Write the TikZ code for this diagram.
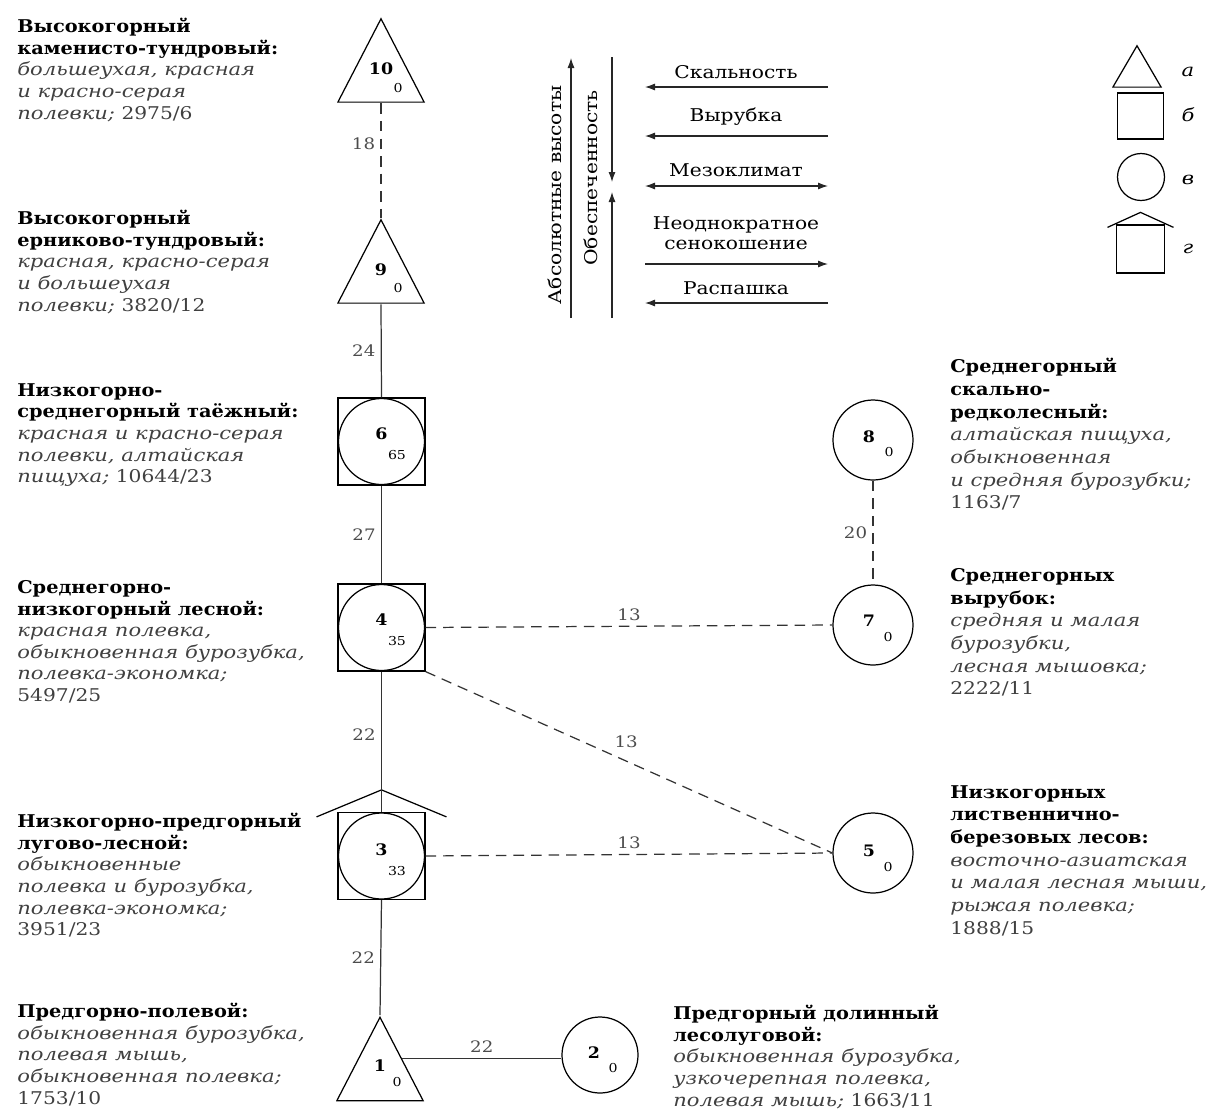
\documentclass[tikz,border=0pt]{standalone}
\usepackage{fontspec}
\setmainfont{DejaVu Serif}[FakeStretch=1.15, BoldFeatures={FakeStretch=1.1}, ItalicFeatures={FakeStretch=1.2}]
\usepackage{tikz}
\usetikzlibrary{arrows.meta,calc}

\begin{document}
\begin{tikzpicture}[
        tri/.style={minimum width=1.76cm, minimum height=1.72cm, inner sep=0pt, path picture={\draw[line width=0.7pt] ([shift={(0.5pt,0.5pt)}]path picture bounding box.south west) -- ([yshift=-1pt]path picture bounding box.north) -- ([shift={(-0.5pt,0.5pt)}]path picture bounding box.south east) -- cycle;}},
        sqcirc/.style={draw, line width=0.7pt, minimum size=1.74cm, inner sep=0pt, path picture={\draw[line width=0.7pt] (path picture bounding box.center) circle (0.86cm);}},
        circ/.style={draw, circle, line width=0.7pt, minimum size=1.6cm, inner sep=0pt},
        numtxt/.style={font=\small\bfseries, inner sep=0pt},
        subtxt/.style={font=\scriptsize, inner sep=0pt},
        link/.style={line width=0.7pt, black!80},
        weak/.style={link, dash pattern=on 6pt off 4pt},
        wt/.style={font=\small, text=black!70, inner sep=3pt},
        info/.style={anchor=north west, align=left, inner sep=0pt, font=\fontsize{10}{12.3}\selectfont},
        infor/.style={info, font=\fontsize{10}{12.9}\selectfont},
        factor/.style={align=center, inner sep=0pt, font=\fontsize{10}{11.7}\selectfont},
        trend/.style={-{Latex[length=2mm,width=1.4mm]}, line width=0.6pt, black!85}
    ]
        \useasboundingbox (0,0) rectangle (24.18,-22.36);

        \node[tri] (n10) at (7.62,-1.20) {};
        \node[tri] (n9) at (7.62,-5.22) {};
        \node[sqcirc] (n6) at (7.63,-8.83) {};
        \node[sqcirc] (n4) at (7.63,-12.55) {};
        \node[sqcirc] (n3) at (7.63,-17.12) {};
        \node[tri] (n1) at (7.60,-21.17) {};
        \node[circ, minimum size=1.52cm] (n2) at (12.0,-21.1) {};
        \node[circ] (n5) at (17.46,-17.06) {};
        \node[circ] (n7) at (17.46,-12.50) {};
        \node[circ] (n8) at (17.46,-8.80) {};
        \draw[line width=0.7pt] ([xshift=-1.3cm,yshift=-0.1cm]n3.north) -- ([yshift=0.44cm]n3.north) -- ([xshift=1.3cm,yshift=-0.1cm]n3.north);

        \node[numtxt] at ([yshift=-0.17cm]n10.center) {10};
        \node[subtxt] at ([shift={(0.34,-0.57)}]n10.center) {0};
        \node[numtxt] at ([yshift=-0.17cm]n9.center) {9};
        \node[subtxt] at ([shift={(0.34,-0.55)}]n9.center) {0};
        \node[numtxt] at ([yshift=-0.14cm]n1.center) {1};
        \node[subtxt] at ([shift={(0.34,-0.47)}]n1.center) {0};
        \node[numtxt] at ([yshift=0.16cm]n6.center) {6};
        \node[subtxt] at ([shift={(0.31,-0.27)}]n6.center) {65};
        \node[numtxt] at ([yshift=0.15cm]n4.center) {4};
        \node[subtxt] at ([shift={(0.31,-0.27)}]n4.center) {35};
        \node[numtxt] at ([yshift=0.12cm]n3.center) {3};
        \node[subtxt] at ([shift={(0.31,-0.30)}]n3.center) {33};
        \node[numtxt] at ([shift={(-0.12,0.04)}]n2.center) {2};
        \node[subtxt] at ([shift={(0.26,-0.26)}]n2.center) {0};
        \node[numtxt] at ([shift={(-0.08,0.04)}]n5.center) {5};
        \node[subtxt] at ([shift={(0.30,-0.28)}]n5.center) {0};
        \node[numtxt] at ([shift={(-0.08,0.08)}]n7.center) {7};
        \node[subtxt] at ([shift={(0.30,-0.24)}]n7.center) {0};
        \node[numtxt] at ([shift={(-0.08,0.06)}]n8.center) {8};
        \node[subtxt] at ([shift={(0.32,-0.24)}]n8.center) {0};

        \coordinate (n1r) at ($(n1.north)!0.5!(n1.south east)$);
        \draw[weak] (n10.south) -- node[wt, pos=0.35, left] {18} (n9.north);
        \draw[link] (n9.south) -- node[wt, left] {24} (n6.north);
        \draw[link] (n6.south) -- node[wt, left] {27} (n4.north);
        \draw[link] (n4.south) -- node[wt, left, pos=0.45] {22} (n3.north);
        \draw[link] (n3.south) -- node[wt, left] {22} (n1.north);
        \draw[link] (n1r) -- node[wt, above] {22} (n1r -| n2.west);
        \draw[weak] (n4.east) -- node[wt, above] {13} (n7.west);
        \draw[weak] (n4.south east) -- node[wt, above right, pos=0.45] {13} (n5.west);
        \draw[weak] (n3.east) -- node[wt, above] {13} (n5.west);
        \draw[weak] (n8.south) -- node[wt, left] {20} (n7.north);

        \node[info] (b10) at (0.34,-0.36) {\textbf{Высокогорный}\\\textbf{каменисто-тундровый:}\\\textcolor{black!75}{\textit{большеухая, красная}}\\\textcolor{black!75}{\textit{и красно-серая}}\\\textcolor{black!75}{\textit{полевки;} 2975/6}};
        \node[info] (b9) at (0.34,-4.20) {\textbf{Высокогорный}\\\textbf{ерниково-тундровый:}\\\textcolor{black!75}{\textit{красная, красно-серая}}\\\textcolor{black!75}{\textit{и большеухая}}\\\textcolor{black!75}{\textit{полевки;} 3820/12}};
        \node[info] (b6) at (0.34,-7.66) {\textbf{Низкогорно-}\\\textbf{среднегорный таёжный:}\\\textcolor{black!75}{\textit{красная и красно-серая}}\\\textcolor{black!75}{\textit{полевки, алтайская}}\\\textcolor{black!75}{\textit{пищуха;} 10644/23}};
        \node[info] (b4) at (0.34,-11.60) {\textbf{Среднегорно-}\\\textbf{низкогорный лесной:}\\\textcolor{black!75}{\textit{красная полевка,}}\\\textcolor{black!75}{\textit{обыкновенная бурозубка,}}\\\textcolor{black!75}{\textit{полевка-экономка;}}\\\textcolor{black!75}{5497/25}};
        \node[info] (b3) at (0.34,-16.26) {\textbf{Низкогорно-предгорный}\\\textbf{лугово-лесной:}\\\textcolor{black!75}{\textit{обыкновенные}}\\\textcolor{black!75}{\textit{полевка и бурозубка,}}\\\textcolor{black!75}{\textit{полевка-экономка;}}\\\textcolor{black!75}{3951/23}};
        \node[info] (b1) at (0.34,-20.06) {\textbf{Предгорно-полевой:}\\\textcolor{black!75}{\textit{обыкновенная бурозубка,}}\\\textcolor{black!75}{\textit{полевая мышь,}}\\\textcolor{black!75}{\textit{обыкновенная полевка;}}\\\textcolor{black!75}{1753/10}};
        \node[info] (b2) at (13.46,-20.10) {\textbf{Предгорный долинный}\\\textbf{лесолуговой:}\\\textcolor{black!75}{\textit{обыкновенная бурозубка,}}\\\textcolor{black!75}{\textit{узкочерепная полевка,}}\\\textcolor{black!75}{\textit{полевая мышь;} 1663/11}};
        \node[infor] (b8) at (19.0,-7.16) {\textbf{Среднегорный}\\\textbf{скально-}\\\textbf{редколесный:}\\\textcolor{black!75}{\textit{алтайская пищуха,}}\\\textcolor{black!75}{\textit{обыкновенная}}\\\textcolor{black!75}{\textit{и средняя бурозубки;}}\\\textcolor{black!75}{1163/7}};
        \node[infor] (b7) at (19.0,-11.36) {\textbf{Среднегорных}\\\textbf{вырубок:}\\\textcolor{black!75}{\textit{средняя и малая}}\\\textcolor{black!75}{\textit{бурозубки,}}\\\textcolor{black!75}{\textit{лесная мышовка;}}\\\textcolor{black!75}{2222/11}};
        \node[infor] (b5) at (19.0,-15.70) {\textbf{Низкогорных}\\\textbf{лиственнично-}\\\textbf{березовых лесов:}\\\textcolor{black!75}{\textit{восточно-азиатская}}\\\textcolor{black!75}{\textit{и малая лесная мыши,}}\\\textcolor{black!75}{\textit{рыжая полевка;}}\\\textcolor{black!75}{1888/15}};

        \coordinate (abslo) at (11.42,-6.36);
        \coordinate (abshi) at (11.42,-1.16);
        \coordinate (obhi) at (12.24,-1.14);
        \coordinate (obmid1) at (12.24,-3.64);
        \coordinate (obmid2) at (12.24,-3.84);
        \coordinate (oblo) at (12.24,-6.36);
        \draw[trend] (abslo) -- (abshi);
        \draw[trend] (obhi) -- (obmid1);
        \draw[trend] (oblo) -- (obmid2);
        \node[factor, rotate=90] (abs) at (11.10,-3.90) {Абсолютные высоты};
        \node[factor, rotate=90] (obesp) at (11.82,-3.56) {Обеспеченность};

        \node[factor] (skal) at (14.72,-1.44) {Скальность};
        \node[factor] (vyr) at (14.72,-2.34) {Вырубка};
        \node[factor] (mezo) at (14.72,-3.40) {Мезоклимат};
        \node[factor] (seno) at (14.72,-4.66) {Неоднократное\\сенокошение};
        \node[factor] (rasp) at (14.72,-5.76) {Распашка};
        \coordinate (skalr) at (16.56,-1.74);
        \coordinate (skall) at (12.90,-1.74);
        \coordinate (vyrr) at (16.56,-2.72);
        \coordinate (vyrl) at (12.90,-2.72);
        \coordinate (mezor) at (16.56,-3.72);
        \coordinate (mezol) at (12.90,-3.72);
        \coordinate (senor) at (16.56,-5.28);
        \coordinate (senol) at (12.90,-5.28);
        \coordinate (raspr) at (16.56,-6.06);
        \coordinate (raspl) at (12.90,-6.06);
        \draw[trend] (skalr) -- (skall);
        \draw[trend] (vyrr) -- (vyrl);
        \draw[trend, {Latex[length=2mm,width=1.4mm]}-{Latex[length=2mm,width=1.4mm]}] (mezol) -- (mezor);
        \draw[trend] (senol) -- (senor);
        \draw[trend] (raspr) -- (raspl);

        \node[tri, minimum width=1.0cm, minimum height=0.88cm] (lga) at (22.74,-1.32) {};
        \node[draw, line width=0.7pt, minimum size=0.92cm, inner sep=0pt] (lgb) at (22.81,-2.32) {};
        \node[circ, minimum size=0.94cm] (lgc) at (22.82,-3.54) {};
        \node[draw, line width=0.7pt, minimum size=0.96cm, inner sep=0pt] (lgd) at (22.81,-4.98) {};
        \draw[line width=0.7pt] ([xshift=-0.66cm,yshift=-0.06cm]lgd.north) -- ([yshift=0.24cm]lgd.north) -- ([xshift=0.66cm,yshift=-0.06cm]lgd.north);
        \node[factor] (la) at (23.76,-1.44) {\textit{а}};
        \node[factor] (lb) at (23.76,-2.30) {\textit{б}};
        \node[factor] (lc) at (23.76,-3.60) {\textit{в}};
        \node[factor] (ld) at (23.76,-4.98) {\textit{г}};
    \end{tikzpicture}
\end{document}
